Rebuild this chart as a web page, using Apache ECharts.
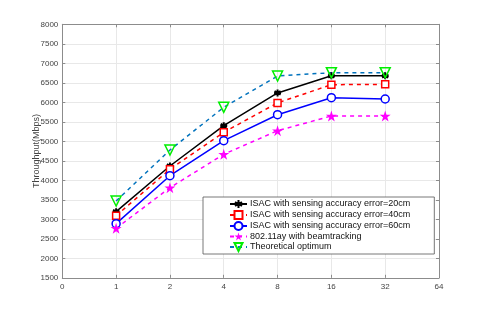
<!DOCTYPE html>
<html><head><meta charset="utf-8">
<script src="https://cdn.jsdelivr.net/npm/echarts@6/dist/echarts.min.js"></script>
<style>html,body{margin:0;padding:0;background:#fff}#c{width:485px;height:313px}</style>
</head><body><div id="c"></div>
<script>
const categories = ['0','1','2','4','8','16','32','64'];
const err20 = [null, 3195, 4367, 5400, 6239, 6680, 6680, null];
const err40 = [null, 3093, 4282, 5231, 5985, 6451, 6460, null];
const err60 = [null, 2888, 4118, 5016, 5682, 6118, 6085, null];
const beam = [null, 2769, 3810, 4667, 5272, 5649, 5649, null];
const optimum = [null, 3470, 4777, 5872, 6674, 6759, 6759, null];
const names = ['ISAC with sensing accuracy error=20cm','ISAC with sensing accuracy error=40cm','ISAC with sensing accuracy error=60cm','802.11ay with beamtracking','Theoretical optimum'];

const starPath = 'path://M0,-1L0.2245,-0.309L0.951,-0.309L0.363,0.118L0.588,0.809L0,0.382L-0.588,0.809L-0.363,0.118L-0.951,-0.309L-0.2245,-0.309Z';
const asterPath = 'path://M0,-1L0,1M-0.87,-0.5L0.87,0.5M-0.87,0.5L0.87,-0.5M-1,0L1,0';
const font = 'Liberation Sans, Arial, sans-serif';
const axisCol = '#8c8c8c';
const chart = echarts.init(document.getElementById('c'), null, {renderer:'canvas'});
function mk(name, data, color, type, symbol, size, fill, border, bw){
  return {name, type:'line', data, connectNulls:false, symbol, symbolSize:size,
    lineStyle:{color, width:1.5, type},
    itemStyle:{color: fill, borderColor: border, borderWidth: bw},
    emphasis:{disabled:true}, animation:false};
}
const s5 = mk(names[4], optimum, '#0072BD', [4,4], 'triangle', 10, 'rgba(255,255,255,0)', '#00ee00', 1.5);
s5.symbolRotate = 180;
chart.setOption({
  animation:false,
  grid:{left:62.3, right:46, top:24.3, bottom:35.2, containLabel:false},
  xAxis:[{type:'category', data:categories, boundaryGap:false,
    axisLine:{lineStyle:{color:axisCol}}, axisTick:{inside:true, length:3, lineStyle:{color:axisCol}},
    axisLabel:{color:'#444', fontSize:8, fontFamily:font, margin:5},
    splitLine:{show:true, lineStyle:{color:'#e8e8e8'}}},
   {type:'category', data:categories, boundaryGap:false, position:'top',
    axisLine:{lineStyle:{color:axisCol}}, axisTick:{inside:true, length:3, lineStyle:{color:axisCol}},
    axisLabel:{show:false}, splitLine:{show:false}}],
  yAxis:[{type:'value', min:1500, max:8000, interval:500,
    name:'Throughput(Mbps)', nameLocation:'middle', nameGap:21, nameMoveOverlap:false,
    nameTextStyle:{color:'#444', fontSize:9, fontFamily:font},
    axisLine:{show:true, lineStyle:{color:axisCol}}, axisTick:{show:true, inside:true, length:3, lineStyle:{color:axisCol}},
    axisLabel:{color:'#444', fontSize:8, fontFamily:font, margin:4, formatter: v => String(v)},
    splitLine:{show:true, lineStyle:{color:'#e8e8e8'}}},
   {type:'value', min:1500, max:8000, interval:500, position:'right',
    axisLine:{show:true, lineStyle:{color:axisCol}}, axisTick:{show:true, inside:true, length:3, lineStyle:{color:axisCol}},
    axisLabel:{show:false}, splitLine:{show:false}}],
  legend:{orient:'vertical', left:203, top:197, data:names,
    backgroundColor:'#fff', borderColor:'#555', borderWidth:0.8,
    padding:[2,24,2,26], itemGap:1, itemWidth:17, itemHeight:10,
    textStyle:{color:'#111', fontSize:9, fontFamily:font, padding:[0,0,0,-2]}},
  series:[
    mk(names[0], err20, '#000', 'solid', asterPath, 7, '#000', '#000', 2),
    mk(names[1], err40, '#ff0000', [4,4], 'rect', 7, '#fff', '#ff0000', 1.5),
    mk(names[2], err60, '#0000ff', 'solid', 'circle', 8, '#fff', '#0000ff', 1.5),
    mk(names[3], beam, '#ff00ff', [4,4], starPath, 11, '#ff00ff', '#ff00ff', 0),
    s5
  ]
});
</script></body></html>
